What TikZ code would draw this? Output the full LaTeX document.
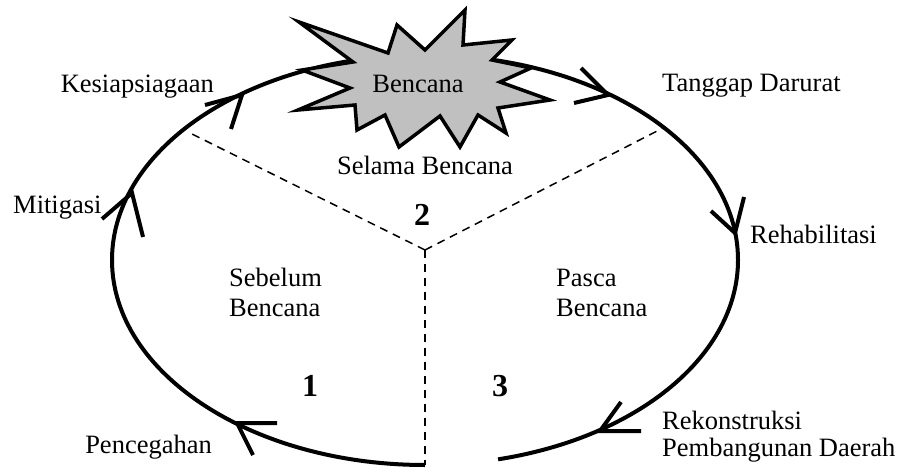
\documentclass[tikz,border=0pt]{standalone}
\usepackage{fontspec}
\setmainfont{Liberation Serif}
\definecolor{starfill}{RGB}{192,192,192}
\begin{document}
\begin{tikzpicture}[x=1pt,y=-1pt,
  lbl/.style={inner sep=0pt, font=\fontsize{26.5}{31}\selectfont},
  num/.style={inner sep=0pt, font=\fontsize{32}{38}\selectfont\bfseries},
  cyc/.style={line width=4pt},
  arrw/.style={line width=4pt, line join=miter},
  sect/.style={line width=1.5pt, dash pattern=on 8pt off 6pt},
  burst/.style={line width=3.5pt, fill=starfill, line join=miter}]
\useasboundingbox (0,0) rectangle (899,468);
% sector dividers
\coordinate (hub) at (425,250);
\coordinate (dl) at (188,132);
\coordinate (dr) at (663,128);
\coordinate (db) at (425,465);
\draw[sect] (hub) -- (dl);
\draw[sect] (hub) -- (dr);
\draw[sect] (hub) -- (db);
% cycle
\draw[cyc] (db) arc[start angle=90, end angle=436.5, x radius=313, y radius=205];
% arrowheads
\coordinate (tk) at (242,95);
\coordinate (tm) at (132,193);
\coordinate (tp) at (237,423);
\coordinate (tr) at (600,431);
\coordinate (th) at (735,233);
\coordinate (tt) at (608,95);
\draw[arrw] (tk) ++(-37,10) -- (tk) -- ++(-11,34);
\draw[arrw] (tm) ++(-30,26) -- (tm) -- ++(11,44);
\draw[arrw] (tp) ++(40,0) -- (tp) -- ++(16,32);
\draw[arrw] (tr) ++(41,0) -- (tr) -- ++(21,-29);
\draw[arrw] (th) ++(-24,-22) -- (th) -- ++(9,-36);
\draw[arrw] (tt) ++(-27,-27) -- (tt) -- ++(-34,8);
% star
\draw[burst] (299,22) -- (388,53) -- (397,25) -- (425,50) -- (465,10) -- (463,45)
  -- (512,40) -- (492,60) -- (531,68) -- (500,82) -- (550,100) -- (498,108)
  -- (506,133) -- (478,115) -- (460,147) -- (440,116) -- (399,147) -- (385,115)
  -- (357,130) -- (355,105) -- (298,110) -- (350,88) -- (302,70) -- (353,62) -- cycle;
\node[lbl, anchor=base] (bencana) at (418,93) {Bencana};
% labels
\node[lbl, anchor=base east] (kes) at (214,93) {Kesiapsiagaan};
\node[lbl, anchor=base west] (tang) at (662,92) {Tanggap Darurat};
\node[lbl, anchor=base] (selama) at (425,174) {Selama Bencana};
\node[num, anchor=base] (n2) at (422,225) {2};
\node[lbl, anchor=base west] (mit) at (13,213) {Mitigasi};
\node[lbl, anchor=base west] (reh) at (750,243) {Rehabilitasi};
\node[lbl, anchor=base west] (seb1) at (229,286) {Sebelum};
\node[lbl, anchor=base west] (seb2) at (229,316) {Bencana};
\node[lbl, anchor=base west] (pas1) at (556,286) {Pasca};
\node[lbl, anchor=base west] (pas2) at (556,316) {Bencana};
\node[num, anchor=base] (n1) at (310,396) {1};
\node[num, anchor=base] (n3) at (500,396) {3};
\node[lbl, anchor=base east] (pen) at (212,453) {Pencegahan};
\node[lbl, anchor=base west] (rek1) at (662,429) {Rekonstruksi};
\node[lbl, anchor=base west] (rek2) at (662,456) {Pembangunan Daerah};
\end{tikzpicture}
\end{document}
